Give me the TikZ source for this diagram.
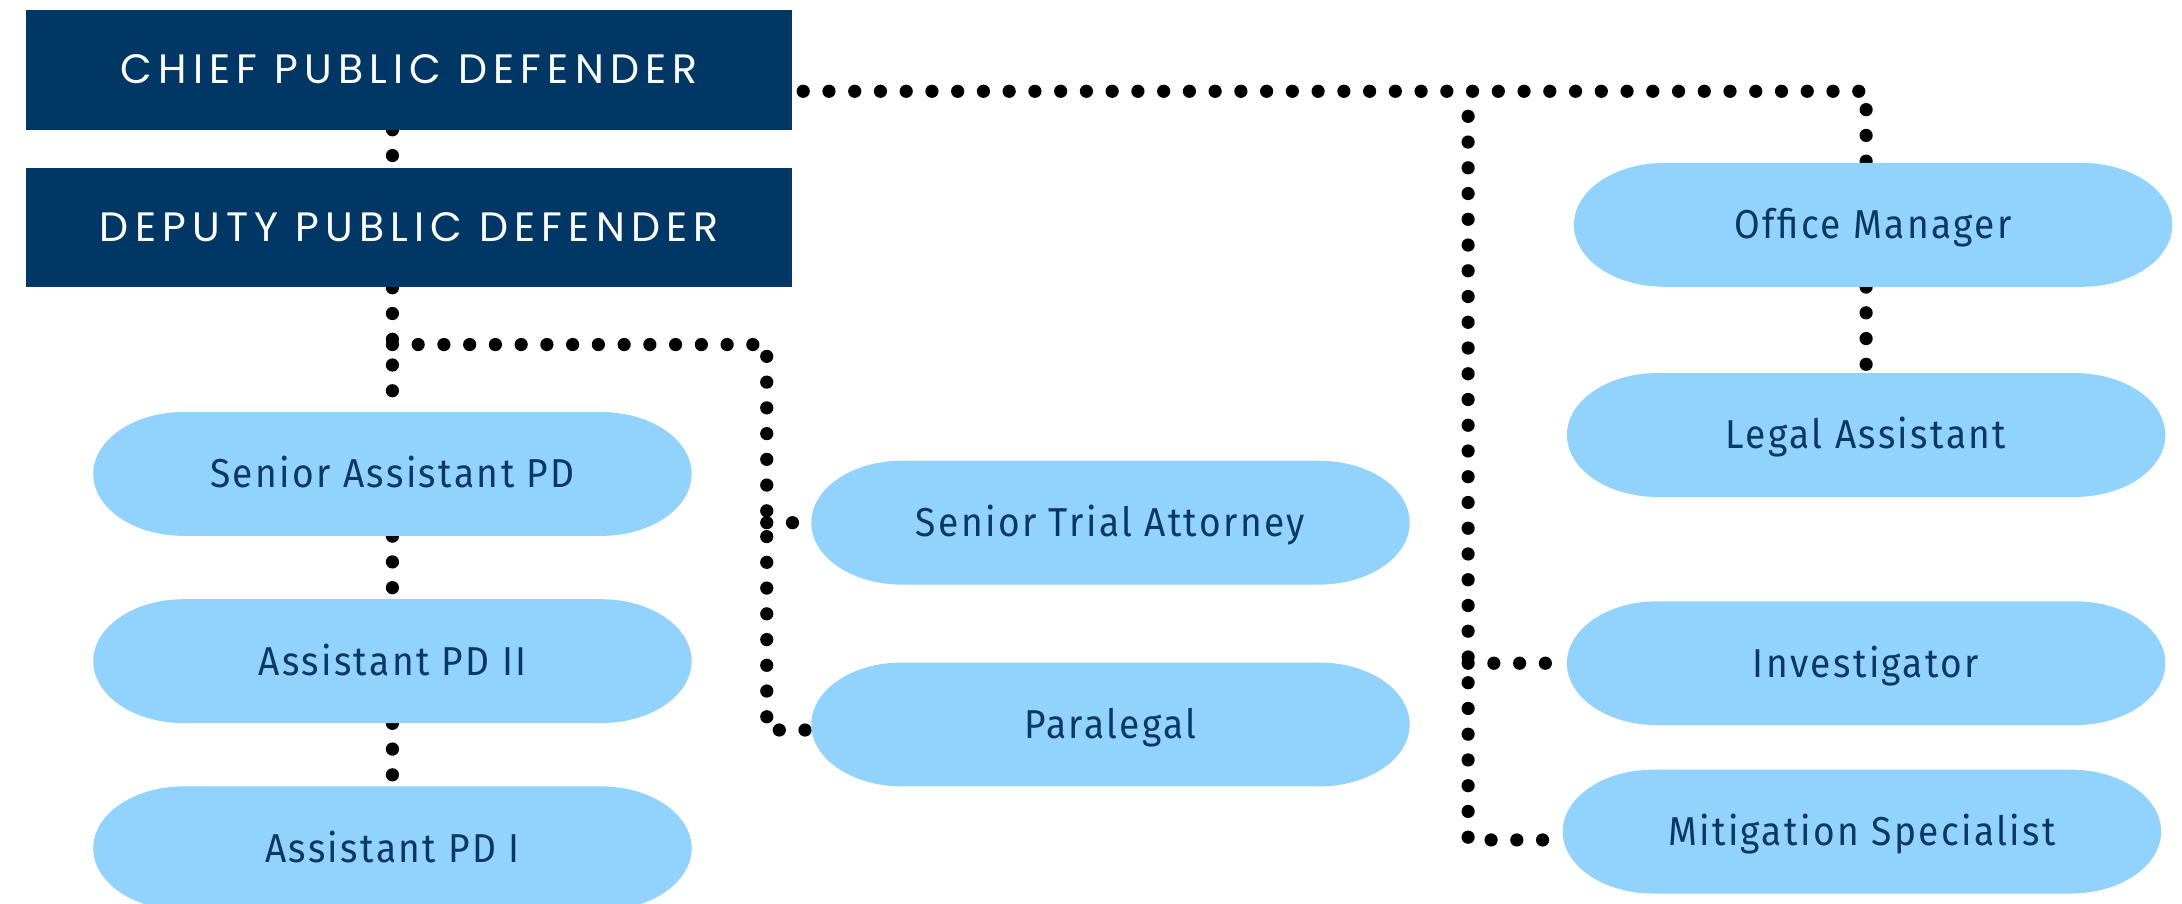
\documentclass[tikz,border=0pt]{standalone}
\usepackage{fontspec}
\newfontfamily\headfont[LetterSpace=15]{Poppins}
\newfontfamily\pillfont[FakeStretch=0.92,LetterSpace=6]{Fira Sans}
\usetikzlibrary{backgrounds}
\definecolor{navy}{HTML}{003764}
\definecolor{pillc}{HTML}{91D3FC}
\definecolor{txt}{HTML}{0B3763}
\tikzset{
  head/.style={fill=navy, minimum width=550pt, minimum height=86pt, inner sep=0pt,
    text=white, text height=20pt, text depth=0pt, font=\headfont\fontsize{29.5}{34}\selectfont},
  pill/.style={minimum width=430pt, minimum height=89pt, inner sep=0pt, text=txt,
    text height=20pt, text depth=0pt, font=\pillfont\fontsize{29}{34}\selectfont,
    path picture={\fill[pillc] ([xshift=65pt]path picture bounding box.north west)
      -- ([xshift=-65pt]path picture bounding box.north east)
      arc[start angle=90,end angle=-90,x radius=65pt,y radius=44.5pt]
      -- ([xshift=65pt]path picture bounding box.south west)
      arc[start angle=270,end angle=90,x radius=65pt,y radius=44.5pt] -- cycle;}},
  dots/.style={line width=9.5pt, dash pattern=on 0pt off 18.5pt, line cap=round, black}
}
\begin{document}
\begin{tikzpicture}[x=1pt,y=1pt]
\useasboundingbox (0,0) rectangle (1568,649.6);
\node[head] (chief) at (294,599.5) {CHIEF PUBLIC DEFENDER};
\node[head] (deputy) at (294,486) {DEPUTY PUBLIC DEFENDER};
\node[pill] (sapd) at (282,309) {Senior Assistant PD};
\node[pill] (apd2) at (282,174.5) {Assistant PD II};
\node[pill] (apd1) at (282,40) {Assistant PD I};
\node[pill] (sta) at (798,274) {Senior Trial Attorney};
\node[pill] (para) at (798,129) {Paralegal};
\node[pill] (om) at (1346,488) {Office Manager};
\node[pill] (la) at (1341,337) {Legal Assistant};
\node[pill] (inv) at (1341,173) {Investigator};
\node[pill] (mit) at (1338,52) {Mitigation Specialist};
\coordinate (cr) at ([yshift=-15.5pt]chief.east);
\coordinate (ctop) at (la |- cr);
\coordinate (rtop) at (1055,566);
\coordinate (rbot) at (1055,46);
\coordinate (dbr) at (sapd |- 0,402);
\coordinate (mbr) at (551,402);
\coordinate (mbot) at (551,125);
\begin{scope}[on background layer]
\draw[dots] (chief.south -| sapd) -- (deputy.north -| sapd);
\draw[dots] (deputy.south -| sapd) -- (sapd.north);
\draw[dots] (sapd.south) -- (apd2.north);
\draw[dots] (apd2.south) -- (apd1.north);
\draw[dots] (dbr) -- (mbr) -- (mbot) -- (para.west |- mbot);
\draw[dots] (mbr |- sta.west) -- (sta.west);
\draw[dots] ([xshift=8pt]cr) -- (ctop) -- (om.north -| ctop);
\draw[dots] (om.south -| la) -- (la.north);
\draw[dots] (rtop) -- (rbot) -- (mit.west |- rbot);
\draw[dots] (rtop |- inv.west) -- (inv.west);
\end{scope}
\end{tikzpicture}
\end{document}
